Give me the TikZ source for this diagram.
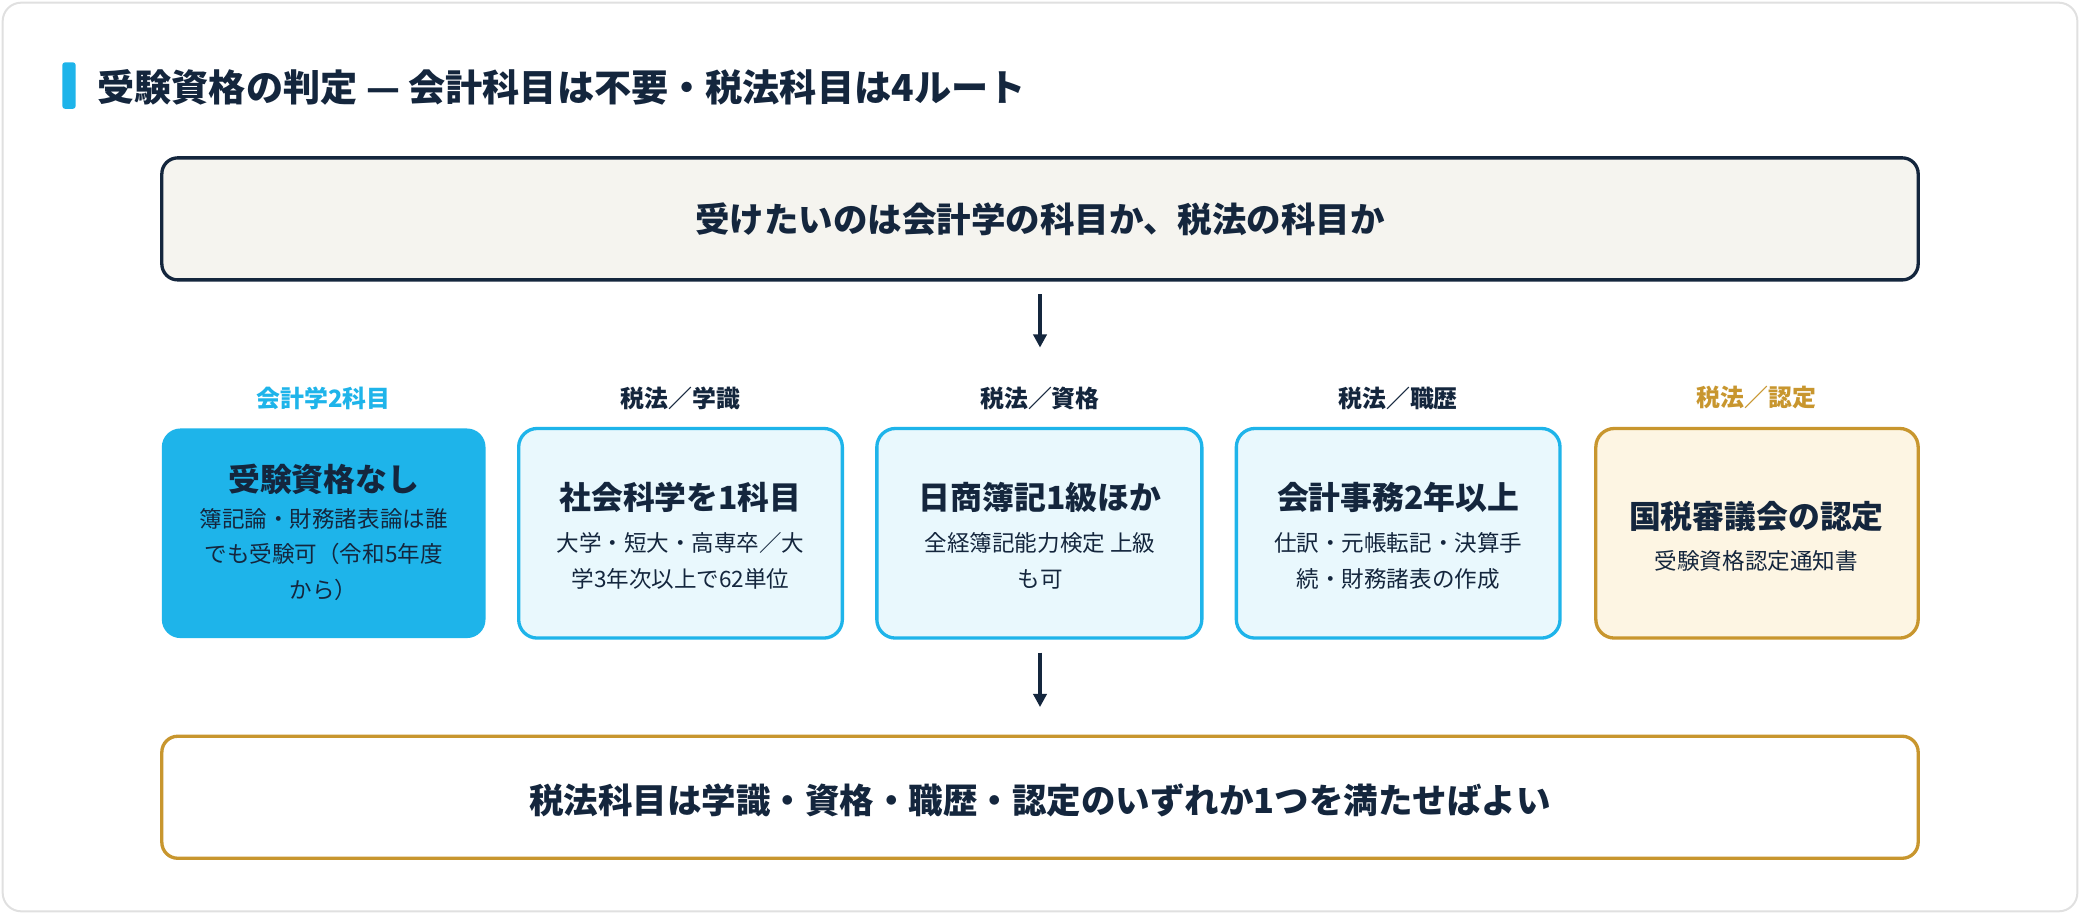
\documentclass[tikz,border=0pt]{standalone}
\usepackage{fontspec}
\setmainfont{Noto Sans CJK JP}
\usetikzlibrary{arrows.meta}
\definecolor{navy}{HTML}{14263D}
\definecolor{cyanb}{HTML}{1EB4EA}
\definecolor{cyanf}{HTML}{E9F8FD}
\definecolor{gold}{HTML}{C8962E}
\definecolor{goldf}{HTML}{FDF5E3}
\definecolor{paper}{HTML}{F5F4EF}
\tikzset{
  box/.style={draw=navy, line width=2.5pt, rounded corners=12pt, fill=paper},
  route/.style={draw=cyanb, line width=2.5pt, rounded corners=14pt, fill=cyanf},
  head/.style={font=\bfseries\fontsize{24}{28}\selectfont, text=navy},
  body/.style={font=\fontsize{17}{27}\selectfont, text=navy, align=center},
  tag/.style={font=\bfseries\fontsize{18}{22}\selectfont, text=navy},
  flow/.style={-{Triangle[length=10pt,width=10pt]}, line width=2.5pt, draw=navy},
}
\begin{document}
\begin{tikzpicture}[x=1pt, y=-1pt]
  \useasboundingbox (0,0) rectangle (1568,689);
  \draw[draw=black!12, line width=1.5pt, fill=white, rounded corners=14pt] (2,2) rectangle (1566,687);

  % title
  \fill[cyanb, rounded corners=2pt] (47,47) rectangle (57,82);
  \node[anchor=west, font=\bfseries\fontsize{28}{32}\selectfont, text=navy] (title) at (70,66)
    {受験資格の判定 — 会計科目は不要・税法科目は4ルート};

  % question
  \draw[box] (122,119) rectangle (1446,211);
  \node[font=\bfseries\fontsize{26}{30}\selectfont, text=navy] (q) at (784,165)
    {受けたいのは会計学の科目か、税法の科目か};
  \coordinate (qa) at (784,222);
  \coordinate (qb) at (784,262);
  \draw[flow] (qa) -- (qb);

  % routes
  \node[tag, text=cyanb] (t1) at (244,300) {会計学2科目};
  \node[tag] (t2) at (513,300) {税法／学識};
  \node[tag] (t3) at (784,300) {税法／資格};
  \node[tag] (t4) at (1054,300) {税法／職歴};
  \node[tag, text=gold] (t5) at (1324,300) {税法／認定};

  \fill[cyanb, rounded corners=14pt] (122,323) rectangle (366,481);
  \node[head] (h1) at (244,361) {受験資格なし};
  \node[body] (b1) at (244,418) {簿記論・財務諸表論は誰\\でも受験可（令和5年度\\から）};

  \draw[route] (391,323) rectangle (635,481);
  \node[head] (h2) at (513,375) {社会科学を1科目};
  \node[body] (b2) at (513,423) {大学・短大・高専卒／大\\学3年次以上で62単位};

  \draw[route] (661,323) rectangle (906,481);
  \node[head] (h3) at (784,375) {日商簿記1級ほか};
  \node[body] (b3) at (784,423) {全経簿記能力検定 上級\\も可};

  \draw[route] (932,323) rectangle (1176,481);
  \node[head] (h4) at (1054,375) {会計事務2年以上};
  \node[body] (b4) at (1054,423) {仕訳・元帳転記・決算手\\続・財務諸表の作成};

  \draw[route, draw=gold, fill=goldf] (1203,323) rectangle (1446,481);
  \node[head] (h5) at (1324,389) {国税審議会の認定};
  \node[body] (b5) at (1324,423) {受験資格認定通知書};

  \coordinate (ra) at (784,492);
  \coordinate (rb) at (784,533);
  \draw[flow] (ra) -- (rb);

  % conclusion
  \draw[box, draw=gold, fill=white] (122,555) rectangle (1446,647);
  \node[font=\bfseries\fontsize{26}{30}\selectfont, text=navy] (c) at (784,603)
    {税法科目は学識・資格・職歴・認定のいずれか1つを満たせばよい};
\end{tikzpicture}
\end{document}
